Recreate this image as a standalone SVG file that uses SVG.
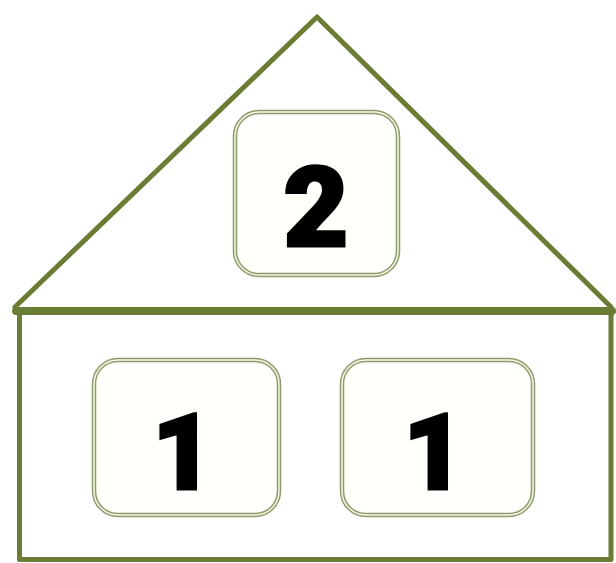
<svg xmlns="http://www.w3.org/2000/svg" width="616" height="563" viewBox="0 0 616 563">
<style>
.ln{stroke:#6b7d34;fill:none;stroke-linecap:round;stroke-linejoin:round}
.box{fill:#fffffb;stroke:#8f9c6c;stroke-width:4.5}
.inner{fill:none;stroke:#f4f7e8;stroke-width:1.5}
.num{font-family:Roboto,"Liberation Sans",Arial,sans-serif;font-weight:900;fill:#000;stroke:#000;stroke-width:3;stroke-linejoin:miter;text-anchor:middle}
</style>
<rect width="616" height="563" fill="#ffffff"/>
<g id="house">
<polyline class="ln" stroke-width="5" points="15,307 317,17 611,307"/>
<line class="ln" stroke-width="8" x1="16" y1="311" x2="612" y2="311"/>
<polyline class="ln" stroke-width="5" points="19.5,311 19.5,559.5 611,559.5 611,311"/>
</g>
<g id="node-top">
<rect class="box" x="235" y="112" width="163" height="163" rx="24"/>
<rect class="inner" x="235" y="112" width="163" height="163" rx="24"/>
<text class="num" x="316" y="246" font-size="112">2</text>
</g>
<g id="node-left">
<rect class="box" x="94" y="360" width="185" height="155" rx="24"/>
<rect class="inner" x="94" y="360" width="185" height="155" rx="24"/>
<text class="num" x="183" y="489" font-size="106">1</text>
</g>
<g id="node-right">
<rect class="box" x="342" y="360" width="191" height="155" rx="24"/>
<rect class="inner" x="342" y="360" width="191" height="155" rx="24"/>
<text class="num" x="434" y="489" font-size="106">1</text>
</g>
</svg>
